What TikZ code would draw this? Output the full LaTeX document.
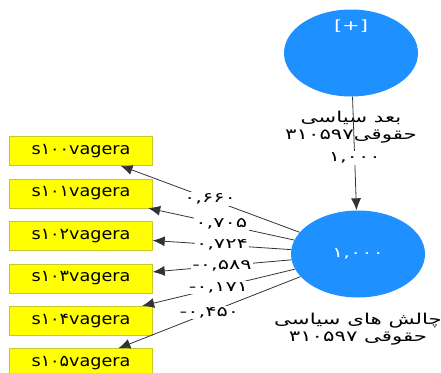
\documentclass[tikz,border=0pt]{standalone}
\usepackage{fontspec}
\setmainfont{DejaVu Sans}
\newfontfamily\arabicfont[Script=Arabic, FakeStretch=1.42]{DejaVu Sans}
\newfontfamily\coeffont[FakeStretch=1.5]{DejaVu Sans}
\newfontfamily\boxfont[FakeStretch=1.1]{DejaVu Sans}
\TeXXeTstate=1
\usetikzlibrary{positioning,shapes.geometric,arrows.meta}
\definecolor{lvblue}{RGB}{30,144,255}
\definecolor{indyellow}{RGB}{255,255,0}
\definecolor{indline}{RGB}{200,200,40}

\begin{document}
\begin{tikzpicture}[
    x=1pt, y=-1pt,
    lv/.style={ellipse, fill=lvblue, minimum width=134pt, minimum height=87pt, inner sep=0pt, text=white, font=\coeffont\fontsize{14}{16}\selectfont},
    ind/.style={rectangle, draw=indline, fill=indyellow, minimum width=143pt, minimum height=29pt, inner sep=0pt, font=\boxfont\fontsize{16}{18}\selectfont},
    lvname/.style={align=center, inner sep=1pt, font=\arabicfont\fontsize{15}{17.5}\selectfont},
    coef/.style={fill=white, inner sep=1.5pt, font=\coeffont\fontsize{14}{16}\selectfont},
    loading/.style={-{Latex[length=12pt,width=10pt]}, draw=black!80, line width=0.8pt},
    node distance=13pt
  ]

    \useasboundingbox (0,0) rectangle (441,372);

    % latent variables
    \node[lv] (dim) at (351,53) {};
    \node[lv, minimum width=0pt, minimum height=0pt, shape=rectangle, below=10pt of dim.north] (dimplus) {[+]};
    \node[lv] (chal) at (358,254) {۱,۰۰۰};

    \node[lvname, below=13pt of dim] (dimname) {
      \beginR بعد سیاسی\endR\\
      \beginR حقوقی\beginL ۳۱۰۵۹۷\endL\endR
    };
    \node[lvname, below=14pt of chal] (chalname) {
      \beginR چالش های سیاسی\endR\\
      \beginR حقوقی \beginL ۳۱۰۵۹۷\endL\endR
    };

    % indicators
    \node[ind] (s100) at (81,151) {s۱۰۰vagera};
    \node[ind, below=of s100] (s101) {s۱۰۱vagera};
    \node[ind, below=of s101] (s102) {s۱۰۲vagera};
    \node[ind, below=of s102] (s103) {s۱۰۳vagera};
    \node[ind, below=of s103] (s104) {s۱۰۴vagera};
    \node[ind, below=of s104] (s105) {s۱۰۵vagera};

    \draw[loading] (dim) -- node[coef, pos=0.54]{۱,۰۰۰} (chal);

    \draw[loading] (chal) -- node[coef]{۰,۶۶۰} (s100);
    \draw[loading] (chal) -- node[coef]{۰,۷۰۵} (s101);
    \draw[loading] (chal) -- node[coef]{۰,۷۲۴} (s102);
    \draw[loading] (chal) -- node[coef]{-۰,۵۸۹} (s103);
    \draw[loading] (chal) -- node[coef]{-۰,۱۷۱} (s104);
    \draw[loading] (chal) -- node[coef]{-۰,۴۵۰} (s105);
  \end{tikzpicture}
\end{document}
